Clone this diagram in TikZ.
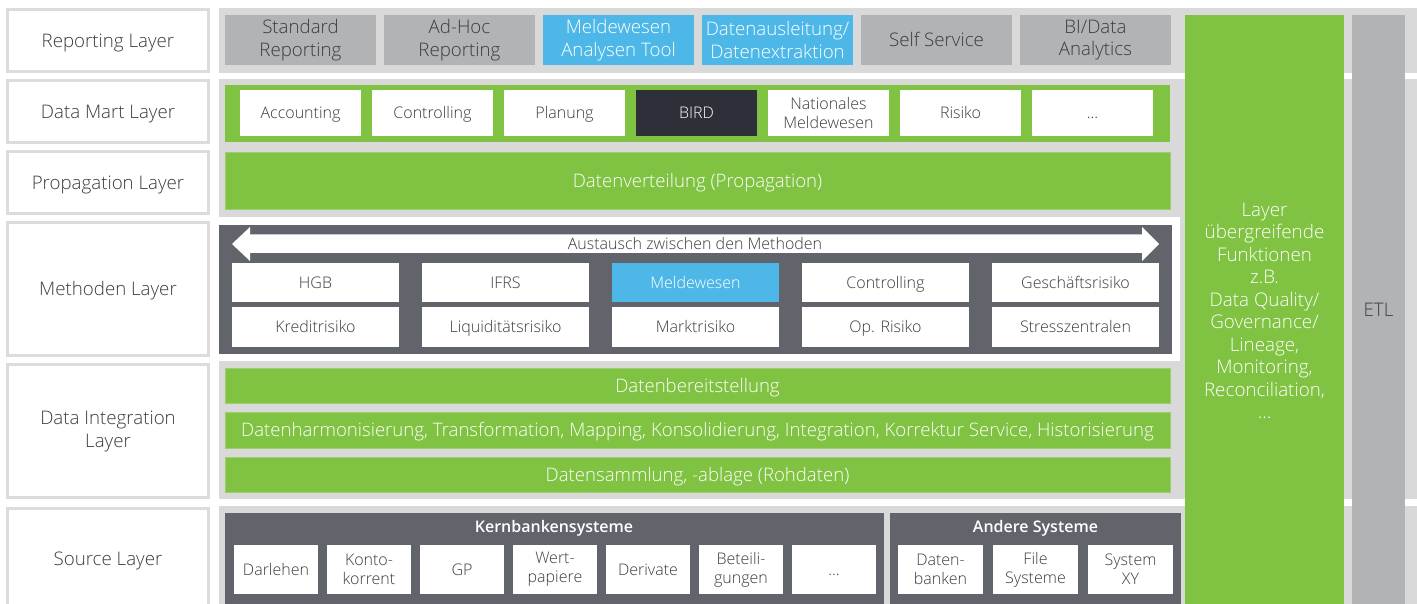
\documentclass[tikz,border=0pt]{standalone}
\usepackage{fontspec}
\IfFontExistsTF{Open Sans Light}
  {\setmainfont{Open Sans Light}[BoldFont={Open Sans Semibold}]}
  {\setmainfont{Open Sans}}
\definecolor{bandgray}{HTML}{D9D9D9}
\definecolor{labelrule}{HTML}{DCDCDC}
\definecolor{boxgray}{HTML}{B1B3B4}
\definecolor{leaf}{HTML}{80C241}
\definecolor{leafedge}{HTML}{9DCF6E}
\definecolor{sky}{HTML}{4DB8E8}
\definecolor{slate}{HTML}{61646B}
\definecolor{ink}{HTML}{3C3C3C}
\definecolor{night}{HTML}{2E3039}

% \blk{name}{x1}{y1}{x2}{y2}{style}{text}: box given by its corners (y grows downwards)
\newcommand\blk[7]{%
  \node[#6, minimum width={(#4-#2)*1pt}, minimum height={(#5-#3)*1pt}]
    (#1) at ({(#2+#4)/2},{(#3+#5)/2}) {#7};}

\tikzset{
  base/.style={inner sep=0pt, outer sep=0pt, align=center},
  % single-line text: capitals centred in the box
  capbig/.style={text height=13.3pt, text depth=0pt},
  capsmall/.style={text height=11.4pt, text depth=0pt},
  fbig/.style={font=\fontsize{18.7}{22.3}\selectfont},
  fsmall/.style={font=\fontsize{16}{19}\selectfont},
  layerlabel/.style={base, fbig, fill=white, draw=labelrule, line width=3pt, text=ink},
  report/.style={base, fbig, fill=boxgray, text=ink},
  reportblue/.style={base, fbig, fill=sky, text=white},
  mart/.style={base, fsmall, fill=white, text=ink},
  martdark/.style={base, fsmall, fill=night, text=white},
  strip/.style={base, capbig, font=\fontsize{18.6}{22}\selectfont, fill=leaf, draw=leafedge, line width=0.8pt, text=white},
  method/.style={base, capsmall, fsmall, fill=white, text=ink},
  methodblue/.style={base, capsmall, fsmall, fill=sky, text=white},
  srcbox/.style={base, fsmall, fill=white, text=ink},
  container/.style={base, fill=slate},
  martband/.style={base, fill=leaf},
  sidecol/.style={base, fill=leaf},
  sidetext/.style={align=center, inner sep=0pt, font=\fontsize{18.8}{22.5}\selectfont, text=white},
  etlcol/.style={base, fill=boxgray},
  grouptitle/.style={capsmall, font=\bfseries\fontsize{16}{19}\selectfont, text=white, inner sep=0pt},
}

\begin{document}
\begin{tikzpicture}[x=1pt, y=-1pt]
\useasboundingbox (0,0) rectangle (1417,604);

% background bands of the layers
\fill[bandgray] (219,8) rectangle (1417,73);
\fill[bandgray] (219,79) rectangle (1417,499);
\fill[white] (219,217) rectangle (1180,361);
\fill[bandgray] (219,506) rectangle (1417,604);

% layer labels
\blk{lrep}{7.5}{9.5}{208.5}{71.5}{layerlabel, capbig}{Reporting Layer}
\blk{lmart}{7.5}{80.5}{208.5}{142.5}{layerlabel, capbig}{Data Mart Layer}
\blk{lprop}{7.5}{151.5}{208.5}{213.5}{layerlabel, capbig}{Propagation Layer}
\blk{lmeth}{7.5}{222.5}{208.5}{355.5}{layerlabel, capbig}{Methoden Layer}
\blk{lint}{7.5}{364.5}{208.5}{497.5}{layerlabel, font=\fontsize{18.7}{23}\selectfont}{Data Integration\\Layer}
\blk{lsrc}{7.5}{508.5}{208.5}{608.5}{layerlabel, capbig}{Source Layer}

% reporting layer
\blk{r1}{225}{15}{376}{65}{report}{Standard\\Reporting}
\blk{r2}{384}{15}{535}{65}{report}{Ad-Hoc\\Reporting}
\blk{r3}{543}{15}{694}{65}{reportblue}{Meldewesen\\Analysen Tool}
\blk{r4}{702}{15}{853}{65}{reportblue}{Datenausleitung/\\Datenextraktion}
\blk{r5}{861}{15}{1012}{65}{report, capbig}{Self Service}
\blk{r6}{1020}{15}{1171}{65}{report}{BI/Data\\Analytics}

% data mart layer
\blk{mband}{225}{85}{1170}{142}{martband}{}
\blk{m1}{240}{90}{361}{136}{mart, capsmall}{Accounting}
\blk{m2}{372}{90}{493}{136}{mart, capsmall}{Controlling}
\blk{m3}{504}{90}{625}{136}{mart, capsmall}{Planung}
\blk{m4}{636}{90}{757}{136}{martdark, capsmall}{BIRD}
\blk{m5}{768}{90}{889}{136}{mart}{Nationales\\Meldewesen}
\blk{m6}{900}{90}{1021}{136}{mart, capsmall}{Risiko}
\blk{m7}{1032}{90}{1153}{136}{mart, capsmall}{...}

% propagation layer
\blk{prop}{225}{152}{1170}{209}{strip}{Datenverteilung (Propagation)}

% methoden layer
\blk{meth}{219}{225}{1172}{354}{container}{}
\fill[white] (232,244) -- (250,227) -- (250,234.5) -- (1142,234.5) -- (1142,227)
  -- (1159,244) -- (1142,261) -- (1142,253) -- (250,253) -- (250,261) -- cycle;
\node[fsmall, capsmall, text=ink, inner sep=0pt] (xchg) at (695,243.5) {Austausch zwischen den Methoden};
\blk{h1}{232}{263}{399}{302}{method}{HGB}
\blk{h2}{422}{263}{589}{302}{method}{IFRS}
\blk{h3}{612}{263}{779}{302}{methodblue}{Meldewesen}
\blk{h4}{802}{263}{969}{302}{method}{Controlling}
\blk{h5}{992}{263}{1159}{302}{method}{Geschäftsrisiko}
\blk{k1}{232}{307}{399}{347}{method}{Kreditrisiko}
\blk{k2}{422}{307}{589}{347}{method}{Liquiditätsrisiko}
\blk{k3}{612}{307}{779}{347}{method}{Marktrisiko}
\blk{k4}{802}{307}{969}{347}{method}{Op. Risiko}
\blk{k5}{992}{307}{1159}{347}{method}{Stresszentralen}

% data integration layer
\blk{i1}{225}{368}{1170}{403}{strip}{Datenbereitstellung}
\blk{i2}{225}{412}{1170}{448}{strip}{Datenharmonisierung, Transformation, Mapping, Konsolidierung, Integration, Korrektur Service, Historisierung}
\blk{i3}{225}{457}{1170}{492}{strip}{Datensammlung, -ablage (Rohdaten)}

% source layer
\blk{core}{225}{513}{884}{612}{container}{}
\node[grouptitle] (coret) at (554,527) {Kernbankensysteme};
\blk{s1}{234}{545}{318}{594}{srcbox, capsmall}{Darlehen}
\blk{s2}{327}{545}{411}{594}{srcbox}{Konto-\\korrent}
\blk{s3}{420}{545}{504}{594}{srcbox, capsmall}{GP}
\blk{s4}{513}{545}{597}{594}{srcbox}{Wert-\\papiere}
\blk{s5}{606}{545}{690}{594}{srcbox, capsmall}{Derivate}
\blk{s6}{699}{545}{783}{594}{srcbox}{Beteili-\\gungen}
\blk{s7}{792}{545}{876}{594}{srcbox, capsmall}{...}
\blk{other}{890}{513}{1181}{612}{container}{}
\node[grouptitle] (othert) at (1035.5,527) {Andere Systeme};
\blk{o1}{898}{545}{983}{594}{srcbox}{Daten-\\banken}
\blk{o2}{993}{545}{1078}{594}{srcbox}{File\\Systeme}
\blk{o3}{1088}{545}{1173}{594}{srcbox}{System\\XY}

% cross-layer columns
\blk{cross}{1185}{15}{1344}{612}{sidecol}{}
\node[sidetext] (crosst) at (1264.5,311) {Layer\\übergreifende\\Funktionen\\z.B.\\Data Quality/\\Governance/\\Lineage,\\Monitoring,\\Reconciliation,\\...};
\blk{etl}{1352}{15}{1405}{612}{etlcol}{}
\node[fbig, capbig, text=ink, inner sep=0pt] (etlt) at (1378.5,309.5) {ETL};
\end{tikzpicture}
\end{document}
